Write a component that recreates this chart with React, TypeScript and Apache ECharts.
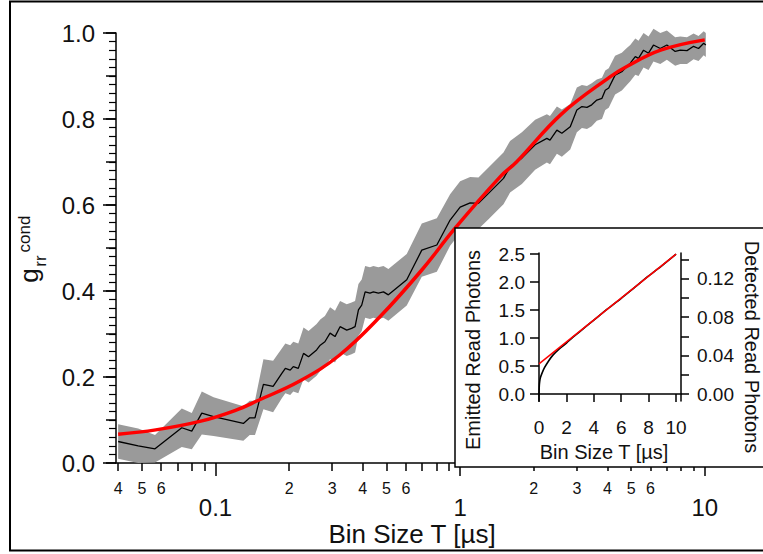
import React, { useEffect, useRef } from 'react';
import * as echarts from 'echarts';

// ---- main panel: g_rr^cond vs bin size T (µs), log x ----
const binSize = [
  0.040, 0.0483, 0.0566, 0.0728, 0.080, 0.0879, 0.0982, 0.130, 0.138, 0.145,
  0.157, 0.172, 0.187, 0.193, 0.202, 0.208, 0.218, 0.229, 0.240, 0.259,
  0.268, 0.280, 0.294, 0.308, 0.323, 0.344, 0.360, 0.372, 0.384, 0.396,
  0.409, 0.428, 0.442, 0.463, 0.486, 0.509, 0.605, 0.697, 0.803, 0.91,
  1.0, 1.099, 1.188, 1.306, 1.504, 1.60, 1.788, 2.026, 2.262, 2.33,
  2.486, 2.605, 2.819, 3.0, 3.146, 3.30, 3.45, 3.62, 3.80, 3.92,
  4.05, 4.3, 4.58, 4.8, 4.96, 5.2, 5.36, 5.62, 5.89, 6.17,
  6.58, 7.0, 7.57, 7.94, 8.46, 9.0, 9.43, 9.9, 10.1,
];
const gMean = [
  0.050, 0.040, 0.033, 0.082, 0.074, 0.116, 0.108, 0.092, 0.105, 0.105,
  0.183, 0.178, 0.209, 0.220, 0.216, 0.224, 0.220, 0.255, 0.247, 0.263,
  0.274, 0.282, 0.302, 0.294, 0.317, 0.309, 0.313, 0.317, 0.356, 0.367,
  0.398, 0.395, 0.398, 0.395, 0.398, 0.391, 0.426, 0.495, 0.507, 0.565,
  0.595, 0.605, 0.604, 0.627, 0.662, 0.689, 0.709, 0.740, 0.755, 0.751,
  0.774, 0.767, 0.782, 0.821, 0.829, 0.827, 0.833, 0.844, 0.848, 0.867,
  0.872, 0.902, 0.910, 0.922, 0.930, 0.945, 0.941, 0.960, 0.953, 0.972,
  0.964, 0.972, 0.957, 0.960, 0.959, 0.969, 0.964, 0.976, 0.972,
];
const gErr = [
  0.040, 0.040, 0.032, 0.045, 0.042, 0.050, 0.045, 0.040, 0.040, 0.040,
  0.058, 0.060, 0.058, 0.058, 0.058, 0.058, 0.058, 0.060, 0.060, 0.060,
  0.060, 0.060, 0.060, 0.060, 0.060, 0.060, 0.060, 0.060, 0.060, 0.060,
  0.060, 0.060, 0.060, 0.060, 0.060, 0.060, 0.060, 0.062, 0.062, 0.060,
  0.060, 0.060, 0.060, 0.060, 0.060, 0.060, 0.060, 0.058, 0.056, 0.056,
  0.055, 0.055, 0.053, 0.052, 0.050, 0.050, 0.050, 0.048, 0.048, 0.046,
  0.046, 0.045, 0.044, 0.043, 0.042, 0.042, 0.041, 0.040, 0.039, 0.038,
  0.036, 0.034, 0.033, 0.032, 0.031, 0.030, 0.029, 0.028, 0.028,
];
const fitBinSize = [0.04, 0.057, 0.088, 0.12, 0.15, 0.22, 0.32, 0.47, 0.7, 0.95, 1.46, 1.7, 2.6, 4.1, 4.8, 6.6, 10];
const fitG = [0.067, 0.077, 0.098, 0.122, 0.146, 0.19, 0.25, 0.34, 0.45, 0.545, 0.666, 0.70, 0.812, 0.898, 0.922, 0.96, 0.984];

const minorTickValues = [0.04, 0.05, 0.06, 0.07, 0.08, 0.09, 0.2, 0.3, 0.4, 0.5, 0.6, 0.7, 0.8, 0.9, 2, 3, 4, 5, 6, 7, 8, 9];
const minorLabelValues = [0.04, 0.05, 0.06, 0.2, 0.3, 0.4, 0.5, 0.6, 2, 3, 4, 5, 6];
const majorTickValues = [0.1, 1, 10];

// ---- inset: emitted read photons vs bin size ----
const insetBinSize = [0, 0.02, 0.05, 0.1, 0.2, 0.4, 0.7, 1.0, 1.5, 2.0, 2.5, 3, 4, 5, 6, 7, 8, 9, 10];
const insetEmitted = [0.0, 0.14, 0.22, 0.29, 0.36, 0.47, 0.59, 0.69, 0.81, 0.91, 1.02, 1.12, 1.32, 1.52, 1.71, 1.91, 2.11, 2.30, 2.5];
const insetFitBinSize = [0, 10];
const insetFit = [0.54, 2.5];
const insetXTicks = [0, 2, 4, 6, 8, 10];
const insetYTicks = [0, 0.5, 1.0, 1.5, 2.0, 2.5];
const insetRightTicks = [0, 0.02, 0.04, 0.06, 0.08, 0.1, 0.12, 0.14];
const insetRightLabels = [0, 0.04, 0.08, 0.12];

const FONT = 'Liberation Sans, Arial, Helvetica, sans-serif';
const INK = '#111';

export default function App() {
  const ref = useRef<HTMLDivElement>(null);

  useEffect(() => {
    if (!ref.current) return;
    const chart = echarts.init(ref.current, undefined, { renderer: 'svg' });

    const xMin = 0.0392;
    const xMax = 17.3;
    const yLeftMin = -0.125;
    const yLeftMax = 2.52;
    const k = 0.04 / 0.6875;

    const axisLine = { show: true, lineStyle: { color: '#000', width: 1.5 } };
    const tickStyle = { color: '#000', width: 1.5 };

    const minorFmt = (v: number) => {
      const e = Math.floor(Math.log10(v) + 1e-9);
      return String(Math.round(v / Math.pow(10, e)));
    };
    const majorFmt = (v: number) => (v >= 1 ? String(Math.round(v)) : v.toFixed(1));

    const bandItem = (params: any, api: any) => {
      if (params.dataIndex !== 0) return null;
      const upper = binSize.map((t, i) => api.coord([t, gMean[i] + gErr[i]]));
      const lower = binSize.map((t, i) => api.coord([t, gMean[i] - gErr[i]])).reverse();
      return {
        type: 'polygon',
        shape: { points: upper.concat(lower) },
        style: { fill: '#9a9a9a', stroke: 'none' },
      };
    };

    const option: any = {
      animation: false,
      grid: [
        { left: 116, right: 0, top: 33, bottom: 91, outerBoundsMode: 'none' },
        { left: 539, right: 82, top: 253, bottom: 153, outerBoundsMode: 'none' },
      ],
      xAxis: [
        {
          type: 'log', gridIndex: 0, position: 'bottom', offset: 4, min: xMin, max: xMax, logBase: 10,
          axisLine,
          axisTick: { show: true, customValues: minorTickValues, length: 8, lineStyle: tickStyle },
          axisLabel: { customValues: minorLabelValues, formatter: minorFmt, fontSize: 16, margin: 13, color: INK, fontFamily: FONT },
          splitLine: { show: false }, minorTick: { show: false },
        },
        {
          type: 'log', gridIndex: 0, position: 'bottom', offset: 4, min: xMin, max: xMax, logBase: 10,
          axisLine: { show: false },
          axisTick: { show: true, customValues: majorTickValues, length: 13, lineStyle: tickStyle },
          axisLabel: { customValues: majorTickValues, formatter: majorFmt, fontSize: 24, margin: 28.5, color: INK, fontFamily: FONT },
          splitLine: { show: false }, minorTick: { show: false },
        },
        {
          type: 'value', gridIndex: 1, position: 'bottom', min: 0, max: 10.36, z: 20,
          axisLine,
          axisTick: { show: true, customValues: insetXTicks, length: 8, lineStyle: tickStyle },
          axisLabel: { customValues: insetXTicks, fontSize: 19, margin: 17, color: INK, fontFamily: FONT },
          splitLine: { show: false },
        },
      ],
      yAxis: [
        {
          type: 'value', gridIndex: 0, position: 'left', min: 0, max: 1, interval: 0.2,
          axisLine,
          axisTick: { show: true, length: 13, lineStyle: tickStyle },
          minorTick: { show: true, splitNumber: 10, length: 7, lineStyle: { color: '#000', width: 1.2 } },
          axisLabel: { formatter: (v: number) => v.toFixed(1), fontSize: 24, margin: 21, color: INK, fontFamily: FONT },
          splitLine: { show: false }, minorSplitLine: { show: false },
        },
        {
          type: 'value', gridIndex: 0, position: 'left', min: 0, max: 1, interval: 0.1,
          axisLine: { show: false },
          axisTick: { show: true, length: 10, lineStyle: tickStyle },
          axisLabel: { show: false },
          splitLine: { show: false },
        },
        {
          type: 'value', gridIndex: 1, position: 'left', min: yLeftMin, max: yLeftMax, z: 20,
          axisLine,
          axisTick: { show: true, customValues: insetYTicks, length: 9, lineStyle: tickStyle },
          axisLabel: { customValues: insetYTicks, formatter: (v: number) => v.toFixed(1), fontSize: 19, margin: 14, color: INK, fontFamily: FONT },
          splitLine: { show: false },
        },
        {
          type: 'value', gridIndex: 1, position: 'right', min: yLeftMin * k, max: yLeftMax * k, z: 20,
          axisLine,
          axisTick: { show: true, customValues: insetRightTicks, length: 8, lineStyle: tickStyle },
          axisLabel: { customValues: insetRightLabels, formatter: (v: number) => v.toFixed(2), fontSize: 19, margin: 16, color: INK, fontFamily: FONT },
          splitLine: { show: false },
        },
      ],
      series: [
        {
          type: 'custom', xAxisIndex: 0, yAxisIndex: 0, silent: true, z: 1,
          data: binSize.map((t, i) => [t, gMean[i]]),
          renderItem: bandItem,
        },
        {
          type: 'line', xAxisIndex: 0, yAxisIndex: 0, symbol: 'none', silent: true,
          data: binSize.map((t, i) => [t, gMean[i]]),
          lineStyle: { color: '#000', width: 1.3 }, z: 3,
        },
        {
          type: 'line', xAxisIndex: 0, yAxisIndex: 0, symbol: 'none', silent: true, smooth: 0.4,
          data: fitBinSize.map((t, i) => [t, fitG[i]]),
          lineStyle: { color: '#ff0000', width: 3.5 }, z: 4,
        },
        {
          type: 'line', xAxisIndex: 2, yAxisIndex: 2, symbol: 'none', silent: true, smooth: 0.3,
          data: insetBinSize.map((t, i) => [t, insetEmitted[i]]),
          lineStyle: { color: '#000', width: 1.6 }, z: 21,
        },
        {
          type: 'line', xAxisIndex: 2, yAxisIndex: 2, symbol: 'none', silent: true,
          data: insetFitBinSize.map((t, i) => [t, insetFit[i]]),
          lineStyle: { color: '#ff0000', width: 1.5 }, z: 22,
        },
      ],
      graphic: {
        elements: [
          { type: 'rect', z: 10, shape: { x: 455, y: 228, width: 330, height: 239 }, style: { fill: '#fff', stroke: '#000', lineWidth: 1.5 } },
          { type: 'rect', z: 30, shape: { x: 10, y: 1.5, width: 780, height: 549 }, style: { fill: 'none', stroke: '#000', lineWidth: 2 } },
          { type: 'text', z: 30, x: 28.5, y: 275.5, rotation: Math.PI / 2, style: { text: 'g', fontSize: 26, fontFamily: FONT, fill: INK, align: 'center', verticalAlign: 'middle' } },
          { type: 'text', z: 30, x: 40.7, y: 261, rotation: Math.PI / 2, style: { text: 'rr', fontSize: 17, fontFamily: FONT, fill: INK, align: 'center', verticalAlign: 'middle' } },
          { type: 'text', z: 30, x: 24, y: 234, rotation: Math.PI / 2, style: { text: 'cond', fontSize: 17, fontFamily: FONT, fill: INK, align: 'center', verticalAlign: 'middle' } },
          { type: 'text', z: 30, x: 412, y: 534, style: { text: 'Bin Size T [µs]', fontSize: 26, fontFamily: FONT, fill: INK, align: 'center', verticalAlign: 'middle' } },
          { type: 'text', z: 30, x: 604, y: 452, style: { text: 'Bin Size T [µs]', fontSize: 20, fontFamily: FONT, fill: INK, align: 'center', verticalAlign: 'middle' } },
          { type: 'text', z: 30, x: 473, y: 350, rotation: Math.PI / 2, style: { text: 'Emitted Read Photons', fontSize: 20, fontFamily: FONT, fill: INK, align: 'center', verticalAlign: 'middle' } },
          { type: 'text', z: 30, x: 752, y: 347, rotation: -Math.PI / 2, style: { text: 'Detected Read Photons', fontSize: 20, fontFamily: FONT, fill: INK, align: 'center', verticalAlign: 'middle' } },
        ],
      },
    };

    chart.setOption(option);
    return () => chart.dispose();
  }, []);

  return <div ref={ref} style={{ position: 'fixed', left: 0, top: 0, width: 763, height: 554, background: '#fff' }} />;
}
